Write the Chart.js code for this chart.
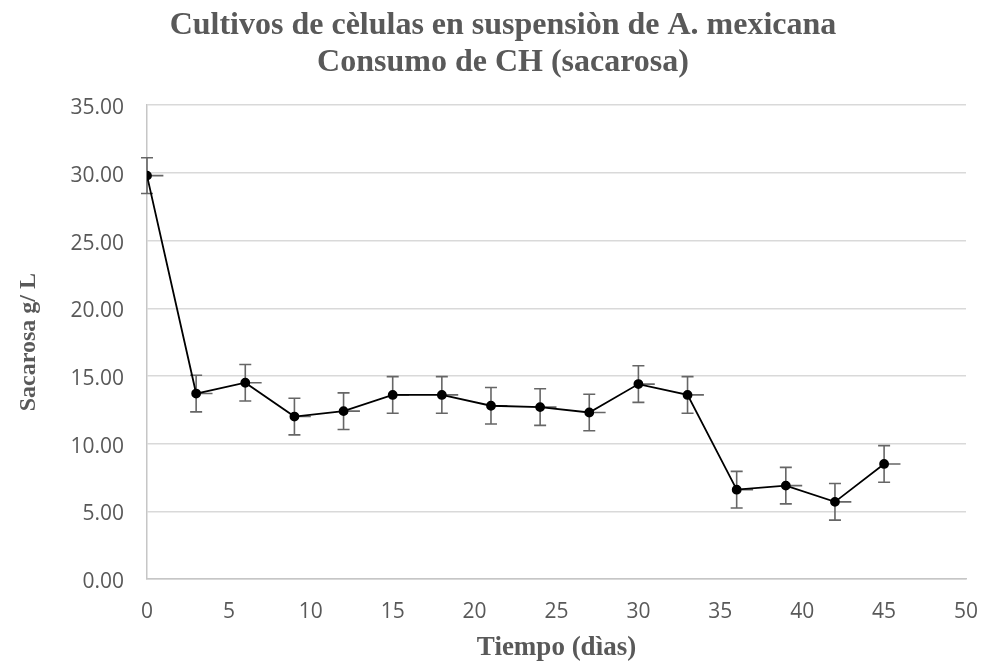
<!DOCTYPE html>
<html>
<head>
<meta charset="utf-8">
<script src="https://cdn.jsdelivr.net/npm/chart.js@4"></script>
<style>
  html, body { margin: 0; padding: 0; background: #fff; }
  #wrap { width: 985px; height: 664px; }
</style>
</head>
<body>
<div id="wrap"><canvas id="chartSac"></canvas></div>
<script>
// Tiempo (dias) and sacarosa g/L
let dias = [0, 3, 6, 9, 12, 15, 18, 21, 24, 27, 30, 33, 36, 39, 42, 45];
let sacarosa = [29.8, 13.7, 14.5, 12.0, 12.4, 13.6, 13.6, 12.8, 12.7, 12.3, 14.4, 13.6, 6.6, 6.9, 5.7, 8.5];
let errY = [1.32, 1.35, 1.35, 1.35, 1.35, 1.35, 1.35, 1.35, 1.35, 1.35, 1.35, 1.35, 1.35, 1.35, 1.35, 1.35];
let errX = [1, 1, 1, 1, 1, 1, 1, 1, 1, 1, 1, 1, 1, 1, 1, 1];

let titulo = ['Cultivos de cèlulas en suspensiòn de A. mexicana', 'Consumo de CH (sacarosa)'];

const gris = '#595959';

// error bars: vertical with caps, horizontal (+) without caps
const errorBars = {
    id: 'errorBars',
    beforeDatasetsDraw(chart) {
        let ctx = chart.ctx;
        let xs = chart.scales.x, ys = chart.scales.y;
        ctx.save();
        ctx.strokeStyle = '#666666';
        ctx.lineWidth = 1.6;
        dias.forEach((d, i) => {
            let px = xs.getPixelForValue(d);
            let top = ys.getPixelForValue(sacarosa[i] + errY[i]);
            let bot = ys.getPixelForValue(sacarosa[i] - errY[i]);
            let py = ys.getPixelForValue(sacarosa[i]);
            let pxr = xs.getPixelForValue(d + errX[i]);
            ctx.beginPath();
            ctx.moveTo(px, top); ctx.lineTo(px, bot);
            ctx.moveTo(px - 6, top); ctx.lineTo(px + 6, top);
            ctx.moveTo(px - 6, bot); ctx.lineTo(px + 6, bot);
            ctx.moveTo(px, py); ctx.lineTo(pxr, py);
            ctx.stroke();
        });
        ctx.restore();
    }
};

let ctx = document.getElementById('chartSac');
let sacChart = new Chart(ctx, {
    type: 'scatter',
    data: {
        datasets: [{
            label: 'Sacarosa',
            data: dias.map((d, i) => ({x: d, y: sacarosa[i]})),
            showLine: true,
            borderColor: '#000000',
            backgroundColor: '#000000',
            borderWidth: 1.8,
            pointRadius: 4,
            pointHoverRadius: 4
        }]
    },
    options: {
        responsive: true,
        maintainAspectRatio: false,
        animation: false,
        layout: { padding: { left: 40, right: 19, top: 0, bottom: 0 } },
        plugins: {
            legend: { display: false },
            tooltip: { enabled: false },
            title: {
                display: true,
                text: titulo,
                color: gris,
                font: { family: '"Liberation Serif", serif', size: 32, weight: 'bold', lineHeight: 1.16 },
                padding: { top: 7, bottom: 24 }
            }
        },
        scales: {
            x: {
                type: 'linear',
                min: 0,
                max: 50,
                afterFit: (s) => { s.height = 85; s.paddingLeft = 0; s.paddingRight = 0; },
                grid: { display: true, drawOnChartArea: false, drawTicks: false },
                border: { display: true, color: '#c6c6c6', width: 1.5 },
                ticks: {
                    stepSize: 5,
                    padding: 20,
                    color: gris,
                    font: { family: '"Open Sans", sans-serif', size: 21 }
                },
                title: {
                    display: true,
                    text: 'Tiempo (dìas)',
                    color: gris,
                    font: { family: '"Liberation Serif", serif', size: 27, weight: 'bold' },
                    padding: { top: 0, bottom: 0 }
                }
            },
            y: {
                min: 0,
                max: 35,
                afterFit: (s) => { s.width = 107; },
                grid: { color: '#d9d9d9', lineWidth: 1.5, drawTicks: false },
                border: { display: true, color: '#c6c6c6', width: 1.5 },
                ticks: {
                    stepSize: 5,
                    padding: 23,
                    labelOffset: 3,
                    color: gris,
                    font: { family: '"Open Sans", sans-serif', size: 21 },
                    callback: (v) => v.toFixed(2)
                },
                title: {
                    display: true,
                    text: 'Sacarosa g/ L',
                    color: gris,
                    font: { family: '"Liberation Serif", serif', size: 24, weight: 'bold' },
                    padding: { top: -26, bottom: 0 }
                }
            }
        }
    },
    plugins: [errorBars]
});
</script>
</body>
</html>
